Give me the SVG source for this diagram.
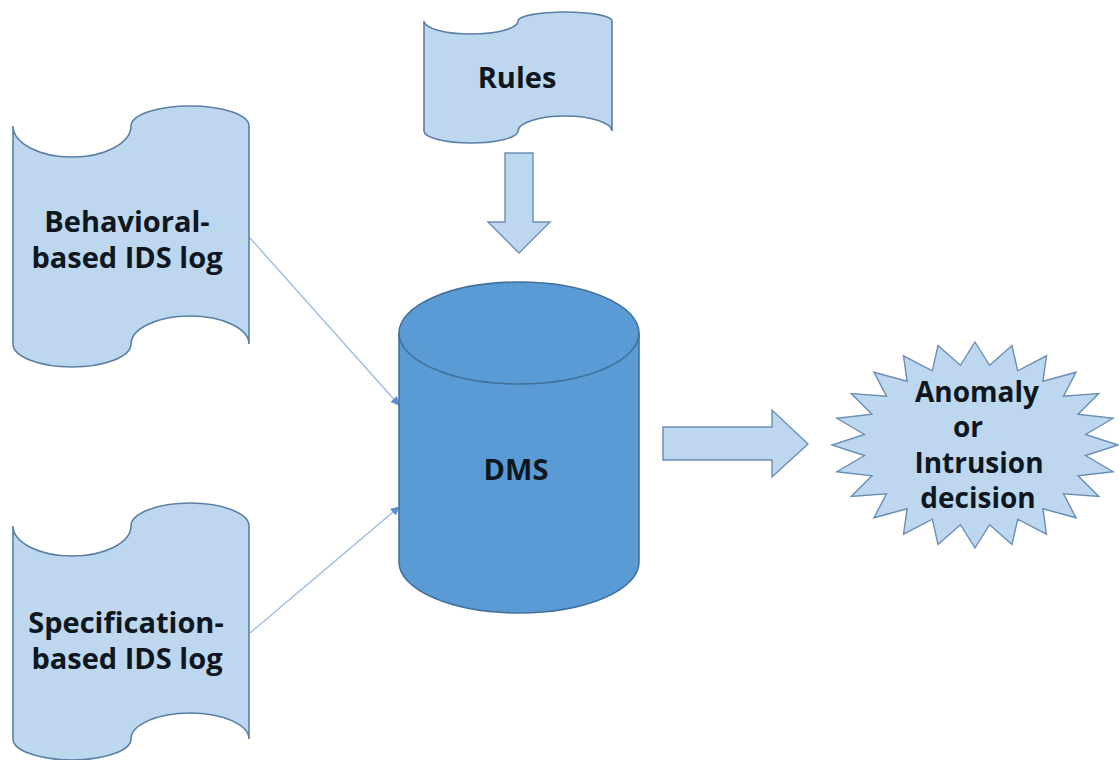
<svg xmlns="http://www.w3.org/2000/svg" width="1119" height="760" viewBox="0 0 1119 760">
  <defs>
    <style>
      .tape { fill: #BDD7EE; stroke: #5A7FA6; stroke-width: 1.6; }
      .block { fill: #BDD7EE; stroke: #6C8EB5; stroke-width: 1.4; }
      .drum { fill: #5B9BD5; stroke: #41719C; stroke-width: 1.6; }
      .star { fill: #BDD7EE; stroke: #6C8EB5; stroke-width: 1.4; }
      .label { font-family: "Open Sans", "Liberation Sans", sans-serif; font-weight: 700; font-size: 29px; fill: #0E1620; text-anchor: middle; }
      .small { font-size: 28px; }
      .link { fill: none; stroke: #9DBDE0; stroke-width: 1.4; }
    </style>
    <marker id="tip" viewBox="0 0 10 10" refX="9" refY="5" markerWidth="9" markerHeight="9" markerUnits="userSpaceOnUse" orient="auto">
      <path d="M0,0 L10,5 L0,10 Z" fill="#5B8FC9"/>
    </marker>
  </defs>

  <rect width="1119" height="760" fill="#FFFFFF"/>

  <!-- connectors -->
  <g id="connectors">
    <line class="link" x1="250" y1="238" x2="399" y2="405" marker-end="url(#tip)"/>
    <line class="link" x1="250" y1="633" x2="399" y2="507" marker-end="url(#tip)"/>
    <path id="arrow-rules-dms" class="block" d="M505,153 L533,153 L533,222 L550,222 L519,253 L488,222 L505,222 Z"/>
    <path id="arrow-dms-decision" class="block" d="M663,427 L772,427 L772,410 L808,444 L772,477 L772,460 L663,460 Z"/>
  </g>

  <!-- rules store -->
  <g id="rules">
    <path class="tape" d="M424,21 A47,13 0 0 0 518,21 A47,9 0 0 1 612,21 L612,131 A47,15 0 0 0 518,131 A47,12 0 0 1 424,131 Z"/>
    <text class="label" x="517" y="88">Rules</text>
  </g>

  <!-- behavioral-based log -->
  <g id="behavioral-log">
    <path class="tape" d="M13,126 A59,31 0 0 0 131,126 A59,20 0 0 1 249,126 L249,344 A59,28 0 0 0 131,344 A59,23 0 0 1 13,344 Z"/>
    <text class="label" x="127" y="232">Behavioral-</text>
    <text class="label" x="127" y="268">based IDS log</text>
  </g>

  <!-- specification-based log -->
  <g id="specification-log">
    <path class="tape" d="M13,526 A59,30 0 0 0 131,526 A59,23 0 0 1 249,526 L249,739 A59,26 0 0 0 131,739 A59,21 0 0 1 13,739 Z"/>
    <text class="label" x="126" y="633">Specification-</text>
    <text class="label" x="127" y="669">based IDS log</text>
  </g>

  <!-- decision making system -->
  <g id="dms">
    <path class="drum" d="M399,333 A120,51 0 0 1 639,333 L639,562 A120,51 0 0 1 399,562 Z"/>
    <path class="drum" fill="none" d="M399,333 A120,51 0 0 0 639,333"/>
    <text class="label" x="516" y="480">DMS</text>
  </g>

  <!-- decision outcome -->
  <g id="decision">
    <polygon class="star" points="975,342 989.6,365.3 1012,345.5 1017.7,370.8 1046.5,355.8 1042.9,381.3 1076.1,372.2 1063.5,396.1 1098.8,393.5 1078,414.3 1113.1,418.3 1085.6,434.5 1118,445 1085.6,455.5 1113.1,471.7 1078,475.7 1098.8,496.5 1063.5,493.9 1076.1,517.8 1042.9,508.7 1046.5,534.2 1017.7,519.2 1012,544.5 989.6,524.7 975,548 960.4,524.7 938,544.5 932.3,519.2 903.5,534.2 907.1,508.7 873.9,517.8 886.5,493.9 851.2,496.5 872,475.7 836.9,471.7 864.4,455.5 832,445 864.4,434.5 836.9,418.3 872,414.3 851.2,393.5 886.5,396.1 873.9,372.2 907.1,381.3 903.5,355.8 932.3,370.8 938,345.5 960.4,365.3"/>
    <text class="label small" x="977" y="402">Anomaly</text>
    <text class="label small" x="968" y="437">or</text>
    <text class="label small" x="979" y="473">Intrusion</text>
    <text class="label small" x="978" y="508">decision</text>
  </g>
</svg>
